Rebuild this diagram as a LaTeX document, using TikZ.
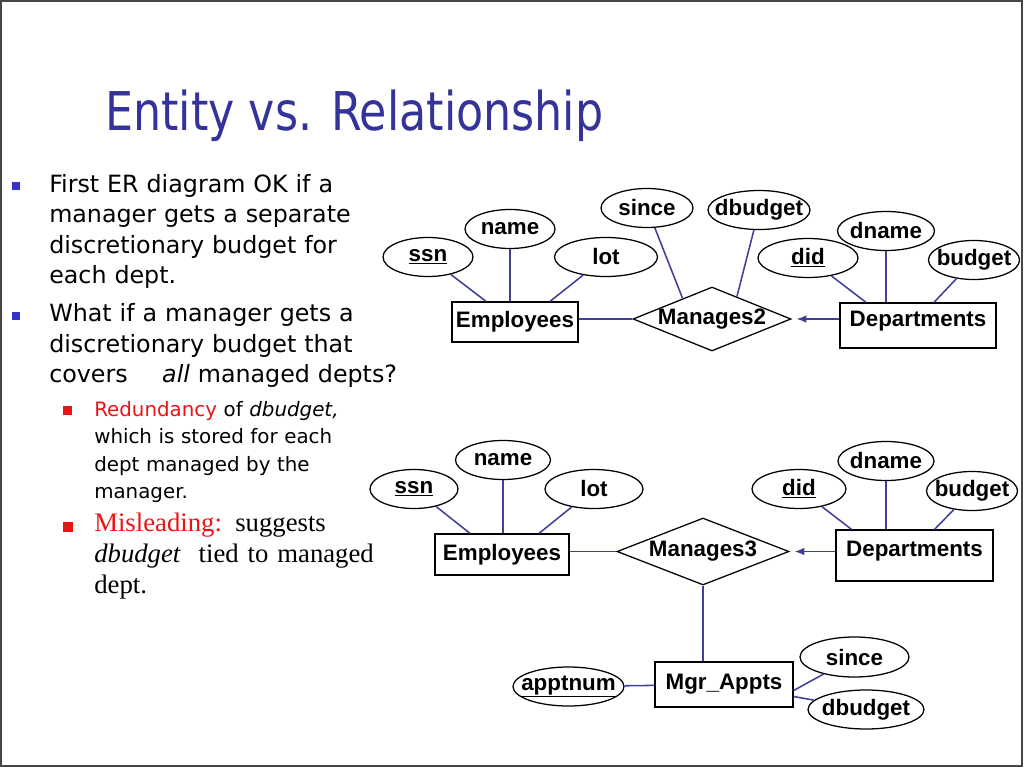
\documentclass[tikz,border=0pt]{standalone}
\usepackage{fontspec}
\setmainfont{DejaVu Sans}
\newfontfamily\erfont{Liberation Sans}
\newfontfamily\serfont{Liberation Serif}
\usetikzlibrary{arrows.meta,shapes.geometric,calc}

\definecolor{titleblue}{RGB}{51,51,153}
\definecolor{bulletblue}{RGB}{51,51,204}
\definecolor{linkblue}{RGB}{64,64,153}
\definecolor{hotred}{RGB}{235,20,20}
\definecolor{framegray}{RGB}{70,70,70}

\newcommand{\pxl}{0.025cm}
\newcommand{\erlbl}[1]{\makebox[0pt]{#1}}

\begin{document}
\begin{tikzpicture}[x=0.025cm, y=-0.025cm, >={Latex[length=7pt,width=5.5pt]},
    er/.style={draw, line width=0.9pt, inner sep=0pt,
      font=\erfont\bfseries\fontsize{15.9}{18}\selectfont},
    entity/.style={er, rectangle, minimum width=#1*\pxl},
    attrib/.style={er, ellipse, minimum width=#1*\pxl, minimum height=39*\pxl},
    rel/.style={er, diamond, minimum width=#1*\pxl},
    link/.style={draw=linkblue, line width=1.1pt},
    body/.style={inner sep=0pt, align=left, text width=12cm,
      font=\fontsize{16.9}{21.6}\selectfont},
    subbody/.style={inner sep=0pt, align=left, text width=12cm,
      font=\fontsize{14.1}{19.35}\selectfont},
    serbody/.style={inner sep=0pt, align=left, text width=12cm,
      font=\serfont\fontsize{19}{21.9}\selectfont}]
    \useasboundingbox (0,0) rectangle (1024,768);
    \draw[framegray, line width=1.5pt] (1,1) rectangle (1022,766);

    % title and bullets
    \node[anchor=base west, inner sep=0pt, xscale=0.83, text=titleblue,
      font=\fontsize{38}{40}\selectfont] (title) at (105,131) {Entity vs. Relationship};

    \fill[bulletblue] (12,182) rectangle (20,190);
    \node[body, anchor=base west] (p1) at (49,192.3)
      {First ER diagram OK if a\\manager gets a separate\\discretionary budget for\\each dept.};
    \fill[bulletblue] (12,312) rectangle (20,320);
    \node[body, anchor=base west] (p2) at (49,321.7)
      {What if a manager gets a\\discretionary budget that\\covers\hspace{1.45em}\textit{all} managed depts?};
    \fill[hotred] (63,406) rectangle (72,415);
    \node[subbody, anchor=base west] (p3) at (94,416.7)
      {\textcolor{hotred}{Redundancy} of \textit{dbudget,}\\which is stored for each\\dept managed by the\\manager.};
    \fill[hotred] (63,522) rectangle (73,532);
    \node[serbody, anchor=base west] (p4) at (94,531.7)
      {\textcolor{hotred}{Misleading:} suggests\\\textit{dbudget}\ \ tied to managed\\dept.};

    % Manages2
    \node[attrib=90] (ssn2) at (428,257) {\erlbl{\underline{ssn}}};
    \node[attrib=90] (name2) at (510,229) {\erlbl{name}};
    \node[attrib=103] (lot2) at (606,257) {\erlbl{lot}};
    \node[attrib=92] (since2) at (647,208) {\erlbl{since}};
    \node[attrib=102] (dbud2) at (759,210) {\erlbl{dbudget}};
    \node[attrib=100] (did2) at (808,258) {\erlbl{\underline{did}}};
    \node[attrib=97] (dname2) at (886,231) {\erlbl{dname}};
    \node[attrib=91] (budget2) at (974,260) {\erlbl{budget}};
    \node[entity=126, minimum height=40*\pxl] (emp2) at (515,322) {Employees};
    \node[rel=158, minimum height=64*\pxl] (m2) at (712,319) {\erlbl{Manages2}};
    \node[entity=156, minimum height=45*\pxl, text depth=9pt] (dept2) at (918,325.5) {Departments};

    \draw[link] (ssn2) -- ($(emp2.north)+(-29,0)$);
    \draw[link] (name2) -- (name2 |- emp2.north);
    \draw[link] (lot2) -- ($(emp2.north)+(35,0)$);
    \draw[link] (since2) -- (m2.145);
    \draw[link] (dbud2) -- (m2.42);
    \draw[link] (did2) -- ($(dept2.north)+(-52,0)$);
    \draw[link] (dname2) -- (dname2 |- dept2.north);
    \draw[link] (budget2) -- ($(dept2.north)+(16,0)$);
    \draw[link] (emp2.east |- m2) -- (m2.west);
    \draw[link, ->, shorten >=3.5pt] (m2 -| dept2.west) -- (m2.east);

    % Manages3 with Mgr_Appts
    \node[attrib=88] (ssn3) at (414,489) {\erlbl{\underline{ssn}}};
    \node[attrib=95] (name3) at (503,460) {\erlbl{name}};
    \node[attrib=98] (lot3) at (594,489) {\erlbl{lot}};
    \node[attrib=94] (did3) at (799,489) {\erlbl{\underline{did}}};
    \node[attrib=96] (dname3) at (886,461) {\erlbl{dname}};
    \node[attrib=91] (budget3) at (972,491) {\erlbl{budget}};
    \node[entity=134, minimum height=41*\pxl] (emp3) at (502,554.5) {Employees};
    \node[rel=172, minimum height=67*\pxl] (m3) at (703,551.5) {\erlbl{Manages3}};
    \node[entity=157, minimum height=51*\pxl, text depth=9pt] (dept3) at (914.5,555.5) {Departments};
    \node[entity=138, minimum height=45*\pxl] (mgr) at (724,684.5) {Mgr\_Appts};
    \node[attrib=111] (appt) at (568.5,686.5) {\erlbl{\underline{apptnum}}};
    \node[attrib=109, minimum height=40*\pxl] (since3) at (854.5,657) {\erlbl{since}};
    \node[attrib=116] (dbud3) at (866,709.5) {\erlbl{dbudget}};

    \draw[link] (ssn3) -- ($(emp3.north)+(-32,0)$);
    \draw[link] (name3) -- (name3 |- emp3.north);
    \draw[link] (lot3) -- ($(emp3.north)+(37,0)$);
    \draw[link] (did3) -- ($(dept3.north)+(-63,0)$);
    \draw[link] (dname3) -- (dname3 |- dept3.north);
    \draw[link] (budget3) -- ($(dept3.north)+(20,0)$);
    \draw[link] (emp3.east |- m3) -- (m3.west);
    \draw[link, ->, shorten >=3.5pt] (m3 -| dept3.west) -- (m3.east);
    \draw[link] (m3.south) -- (m3.south |- mgr.north);
    \draw[link] (appt) -- (mgr);
    \draw[link] (since3) -- ($(mgr.east)+(0,6)$);
    \draw[link] (dbud3) -- ($(mgr.east)+(0,12)$);
\end{tikzpicture}
\end{document}
